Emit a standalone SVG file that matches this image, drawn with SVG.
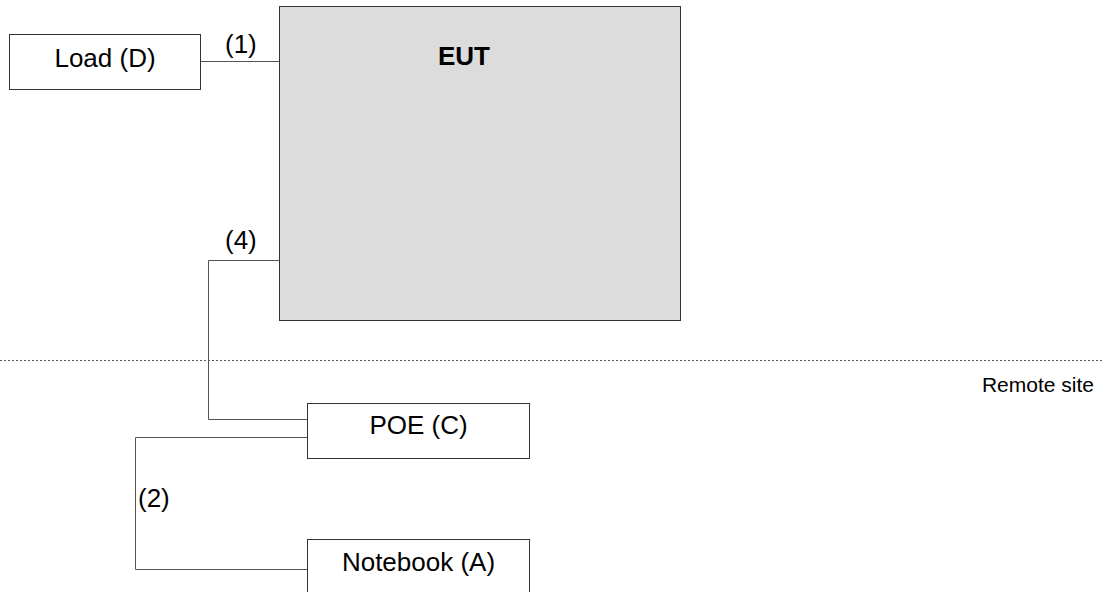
<svg xmlns="http://www.w3.org/2000/svg" width="1104" height="592" viewBox="0 0 1104 592">
<style>
.box{fill:#ffffff;stroke:#333333;stroke-width:1}
.eut{fill:#dcdcdc;stroke:#333333;stroke-width:1}
.wire{fill:none;stroke:#555555;stroke-width:1}
.lbl{font-family:"Liberation Sans",Arial,sans-serif;font-size:26px;fill:#000000}
.sep{fill:none;stroke:#555555;stroke-width:1;stroke-dasharray:2,2}
</style>
<rect width="1104" height="592" fill="#ffffff"/>
<line class="sep" x1="0" y1="360.5" x2="1104" y2="360.5"/>
<text class="lbl" x="1094" y="392" text-anchor="end" style="font-size:21px">Remote site</text>
<g id="connectors">
<path class="wire" d="M201,61.5 H279"/>
<path class="wire" d="M279,260.5 H208.5 V419.5 H307"/>
<path class="wire" d="M307,437.5 H135.5 V569.5 H307"/>
<text class="lbl" x="225" y="53">(1)</text>
<text class="lbl" x="225" y="249">(4)</text>
<text class="lbl" x="138" y="507">(2)</text>
</g>
<g id="load">
<rect class="box" x="9.5" y="34.5" width="191" height="55"/>
<text class="lbl" x="105" y="67" text-anchor="middle">Load (D)</text>
</g>
<g id="eut">
<rect class="eut" x="279.5" y="6.5" width="401" height="314"/>
<text class="lbl" x="464" y="65" text-anchor="middle" font-weight="bold">EUT</text>
</g>
<g id="poe">
<rect class="box" x="307.5" y="403.5" width="222" height="55"/>
<text class="lbl" x="418.5" y="434" text-anchor="middle">POE (C)</text>
</g>
<g id="notebook">
<rect class="box" x="307.5" y="539.5" width="222" height="55"/>
<text class="lbl" x="418.5" y="571" text-anchor="middle">Notebook (A)</text>
</g>
</svg>
